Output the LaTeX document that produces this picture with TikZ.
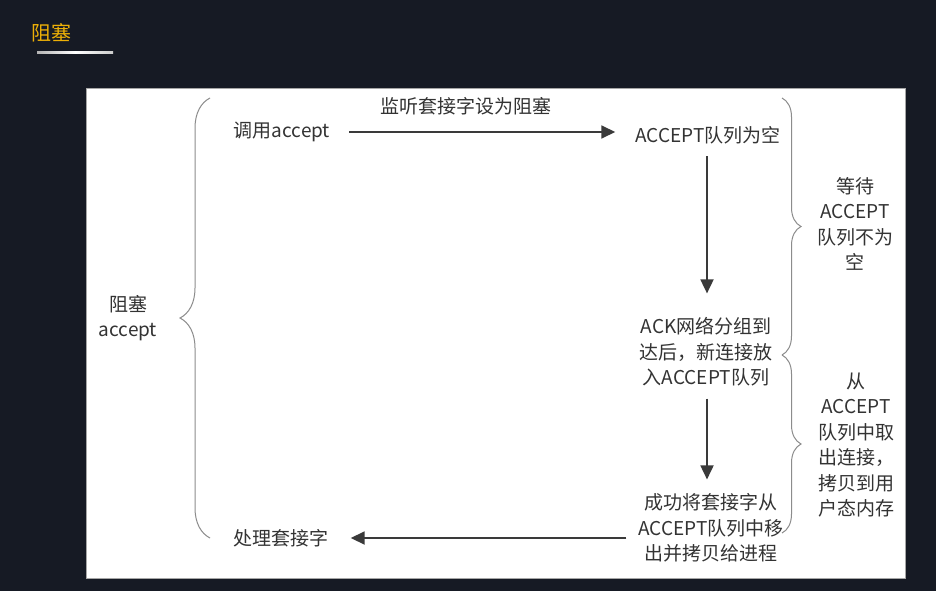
\documentclass[tikz,border=0pt]{standalone}
\usepackage{fontspec}
\setmainfont{Noto Sans CJK SC}
\usetikzlibrary{arrows.meta,decorations.pathreplacing}
\definecolor{bgc}{HTML}{161A24}
\definecolor{titlec}{HTML}{EDB007}
\definecolor{txtc}{HTML}{333333}
\definecolor{arrc}{HTML}{3A3A3A}
\definecolor{brcc}{HTML}{8C8C8C}
\begin{document}
\begin{tikzpicture}[x=1pt,y=-1pt,
  txt/.style={text=txtc,font=\fontsize{19}{25.5}\selectfont,inner sep=2pt,align=center},
  arr/.style={draw=arrc,line width=1.8pt,-{Triangle[length=14pt,width=13pt]}},
  brc/.style={draw=brcc,line width=1pt,decorate,decoration={brace,amplitude=#1}}]
\useasboundingbox (0,0) rectangle (936,591);
\fill[bgc] (0,0) rectangle (936,591);
% title
\node[text=titlec,font=\fontsize{20}{24}\selectfont,inner sep=0pt] (title) at (51,33) {阻塞};
\shade[left color=gray!60,right color=gray!40,middle color=white] (37,52) rectangle (113,54);
% panel
\fill[white,draw=gray!70,line width=0.8pt] (86,88) rectangle (905,578);
% nodes
\node[txt] (call) at (282,132) {调用accept};
\node[txt] (listen) at (466,106) {监听套接字设为阻塞};
\node[txt] (empty) at (708,135) {ACCEPT队列为空};
\node[txt] (ack) at (706,352) {ACK网络分组到\\达后，新连接放\\入ACCEPT队列};
\node[txt] (succ) at (711,528) {成功将套接字从\\ACCEPT队列中移\\出并拷贝给进程};
\node[txt] (proc) at (281,538) {处理套接字};
\node[txt] (blk) at (128,318) {阻塞\\accept};
\node[txt] (wait) at (855,224) {等待\\ACCEPT\\队列不为\\空};
\node[txt] (take) at (856,445) {从\\ACCEPT\\队列中取\\出连接，\\拷贝到用\\户态内存};
% arrows
\draw[arr,shorten <=17pt,shorten >=18pt] (call.east) -- (call.east -| empty.west);
\draw[arr,shorten <=10pt,shorten >=22pt] (empty.south -| 707,0) -- (ack.north -| 707,0);
\draw[arr,shorten <=10pt,shorten >=12pt] (ack.south -| 707,0) -- (succ.north -| 707,0);
\draw[arr,shorten <=10pt,shorten >=20pt] (succ.west |- proc.east) -- (proc.east);
% braces
\coordinate (lbTop) at (210,98);
\coordinate (lbBot) at (210,538);
\coordinate (rbTop) at (782,98);
\coordinate (rbMid) at (782,355);
\coordinate (rbBot) at (782,533);
\draw[brc=30pt] (lbBot) -- (lbTop);
\draw[brc=19pt] (rbTop) -- (rbMid);
\draw[brc=19pt] (rbMid) -- (rbBot);
\end{tikzpicture}
\end{document}
